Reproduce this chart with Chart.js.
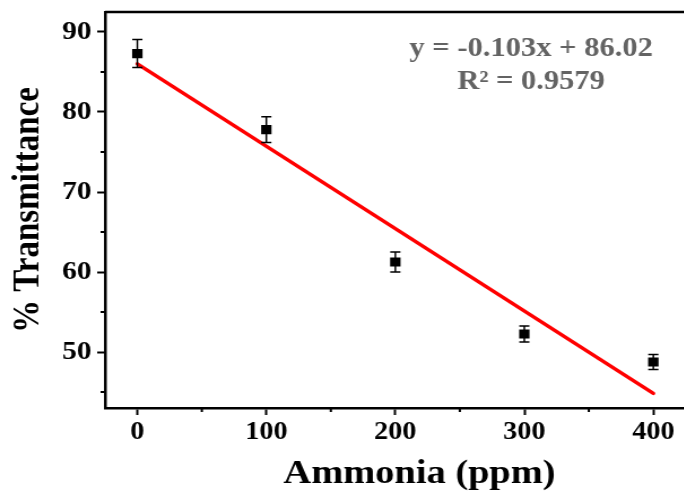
<!DOCTYPE html>
<html>
<head>
<meta charset="utf-8">
<title>Transmittance vs Ammonia</title>
<script src="https://cdn.jsdelivr.net/npm/chart.js@4.4.1/dist/chart.umd.min.js"></script>
<style>
  html, body { margin: 0; padding: 0; background: #fff; overflow: hidden; width: 684px; height: 491px; }
  /* the reference picture is stretched sideways and cut on the right */
  #wrap { width: 656px; height: 491px; transform: scaleX(1.13); transform-origin: 0 0; }
</style>
</head>
<body>
<div id="wrap"><canvas id="chart" width="656" height="491"></canvas></div>
<script>
// Data
const ammonia = [0, 100, 200, 300, 400];
const transmittance = [87.3, 77.8, 61.25, 52.25, 48.75];
const errors = [1.75, 1.6, 1.25, 1.0, 0.95];

// Linear fit y = -0.103x + 86.02 at its two ends
const fitX = [0, 400];
const fitY = [86.02, 44.82];
const equationLines = ["y = -0.103x + 86.02", "R\u00b2 = 0.9579"];

// Ticks
const xMajor = [0, 100, 200, 300, 400];
const xMinor = [50, 150, 250, 350, 450];
const yMajor = [50, 60, 70, 80, 90];
const yMinor = [45, 55, 65, 75, 85];

const serif = '"Liberation Serif", "Times New Roman", serif';

// Error bars, minor ticks, top/right frame and the fit equation
const extras = {
  id: "extras",
  afterDatasetsDraw(chart) {
    const ctx = chart.ctx;
    const x = chart.scales.x, y = chart.scales.y;
    ctx.save();
    ctx.strokeStyle = "#000";
    ctx.lineWidth = 1.5;
    ammonia.forEach((a, i) => {
      const px = x.getPixelForValue(a);
      const top = y.getPixelForValue(transmittance[i] + errors[i]);
      const bot = y.getPixelForValue(transmittance[i] - errors[i]);
      ctx.beginPath();
      ctx.moveTo(px, top); ctx.lineTo(px, bot);
      ctx.moveTo(px - 4.5, top); ctx.lineTo(px + 4.5, top);
      ctx.moveTo(px - 4.5, bot); ctx.lineTo(px + 4.5, bot);
      ctx.stroke();
    });
    ctx.restore();
  },
  afterDraw(chart) {
    const ctx = chart.ctx;
    const area = chart.chartArea;
    const x = chart.scales.x, y = chart.scales.y;
    ctx.save();
    ctx.strokeStyle = "#000";
    ctx.lineWidth = 2;
    ctx.beginPath();
    xMinor.forEach(v => {
      const px = x.getPixelForValue(v);
      ctx.moveTo(px, area.bottom); ctx.lineTo(px, area.bottom + 4);
    });
    yMinor.forEach(v => {
      const py = y.getPixelForValue(v);
      ctx.moveTo(area.left, py); ctx.lineTo(area.left - 4, py);
    });
    ctx.stroke();

    // top and right side of the frame
    ctx.lineWidth = 2.5;
    ctx.beginPath();
    ctx.moveTo(area.left, area.top);
    ctx.lineTo(area.right, area.top);
    ctx.lineTo(area.right, area.bottom);
    ctx.stroke();

    ctx.fillStyle = "#636363";
    ctx.font = "bold 27px " + serif;
    ctx.textAlign = "center";
    ctx.textBaseline = "middle";
    ctx.fillText(equationLines[0], 470, 49);
    ctx.fillText(equationLines[1], 470, 82);
    ctx.restore();
  }
};

new Chart(document.getElementById("chart"), {
  type: "scatter",
  data: {
    datasets: [
      {
        label: "Fit",
        type: "line",
        data: fitX.map((v, i) => ({ x: v, y: fitY[i] })),
        borderColor: "#ff0000",
        borderWidth: 3.5,
        borderCapStyle: "round",
        pointRadius: 0,
        fill: false,
        order: 2
      },
      {
        label: "% Transmittance",
        data: ammonia.map((v, i) => ({ x: v, y: transmittance[i] })),
        pointStyle: "rect",
        pointRadius: 6.5,
        backgroundColor: "#000",
        borderColor: "#000",
        borderWidth: 0,
        order: 1
      }
    ]
  },
  options: {
    responsive: false,
    animation: false,
    devicePixelRatio: 1,
    layout: { padding: { top: 12, right: 0, left: 0, bottom: 0 } },
    plugins: { legend: { display: false }, tooltip: { enabled: false } },
    scales: {
      x: {
        type: "linear",
        min: -25,
        max: 462.5,
        afterFit: s => { s.height = 83; s.paddingLeft = 0; s.paddingRight = 0; },
        afterBuildTicks: s => { s.ticks = xMajor.map(v => ({ value: v })); },
        border: { display: true, color: "#000", width: 2.5 },
        grid: { drawOnChartArea: false, drawTicks: true, tickLength: 7, tickWidth: 2, tickColor: "#000" },
        ticks: {
          autoSkip: false, maxRotation: 0, padding: 3, color: "#000",
          font: { family: serif, size: 25, weight: "bold" }
        },
        title: {
          display: true, text: "Ammonia (ppm)", color: "#000",
          padding: { top: 0, bottom: 0 },
          font: { family: serif, size: 34, weight: "bold", lineHeight: 1 }
        }
      },
      y: {
        type: "linear",
        min: 43,
        max: 92.5,
        afterFit: s => { s.width = 93; s.paddingTop = 0; s.paddingBottom = 0; },
        afterBuildTicks: s => { s.ticks = yMajor.map(v => ({ value: v })); },
        border: { display: true, color: "#000", width: 2.5 },
        grid: { drawOnChartArea: false, drawTicks: true, tickLength: 7, tickWidth: 2, tickColor: "#000" },
        ticks: {
          autoSkip: false, padding: 5, color: "#000",
          font: { family: serif, size: 26, weight: "bold" }
        },
        title: {
          display: true, text: "% Transmittance", color: "#000",
          padding: { top: 9, bottom: 0 },
          font: { family: serif, size: 33, weight: "bold", lineHeight: 1 }
        }
      }
    }
  },
  plugins: [extras]
});
</script>
</body>
</html>
